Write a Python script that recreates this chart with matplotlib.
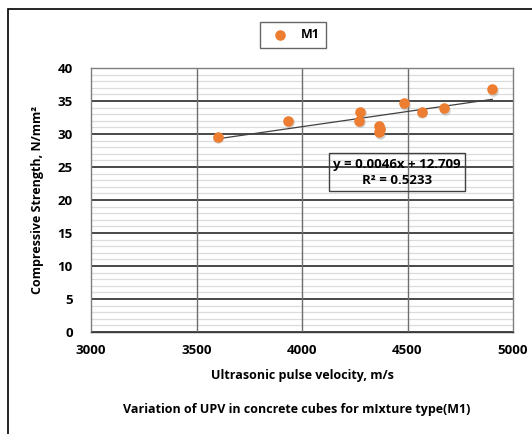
import numpy as np
import matplotlib.pyplot as plt
from matplotlib.patches import Rectangle

plt.rcParams['font.family'] = ['Open Sans', 'DejaVu Sans']
plt.rcParams['font.weight'] = 'bold'
plt.rcParams['axes.labelweight'] = 'bold'

# UPV (m/s) vs compressive strength (N/mm2), mixture M1
upv = [3600, 3935, 4275, 4270, 4365, 4368, 4365, 4483, 4567, 4675, 4902]
strength = [29.6, 32.0, 33.4, 32.0, 31.2, 30.8, 30.3, 34.7, 33.4, 33.9, 36.8]

# trendline from the chart's equation
slope = 0.0046
intercept = 12.709
eq_text = 'y = 0.0046x + 12.709\nR² = 0.5233'

x_ticks = [3000, 3500, 4000, 4500, 5000]
y_ticks = [0, 5, 10, 15, 20, 25, 30, 35, 40]

W, H = 532, 434
fig = plt.figure(figsize=(W / 100, H / 100), dpi=100)
ax = fig.add_axes([91 / W, 1 - 332 / H, (513 - 91) / W, (332 - 68) / H])

# outer chart border
fig.patches.append(Rectangle((8 / W, -0.1), 1.2, 1 - 9 / H + 0.1,
                             transform=fig.transFigure, fill=False,
                             edgecolor='black', lw=1.2))

ax.set_xlim(3000, 5000)
ax.set_ylim(0, 40)
ax.set_xticks(x_ticks)
ax.set_yticks(y_ticks)
ax.set_yticks(np.arange(0, 40, 1), minor=True)
ax.grid(which='minor', axis='y', color='#dcdcdc', lw=0.9, zorder=0.5)
ax.grid(which='major', axis='y', color='#3a3a3a', lw=1.3)
for xv in x_ticks[1:-1]:
    ax.axvline(xv, color='#6e6e6e', lw=1.0, zorder=1.5)
ax.set_axisbelow(True)
for s in ax.spines.values():
    s.set_color('#7f7f7f')
    s.set_linewidth(1.0)
ax.spines['bottom'].set_color('#3a3a3a')
ax.tick_params(which='both', length=0, labelsize=9.5, pad=9)
ax.tick_params(axis='y', pad=13)

# trendline
xt = np.array([min(upv), max(upv)])
ax.plot(xt, slope * xt + intercept, color='#404040', lw=0.9, zorder=3)

# points with soft shadow
ax.scatter(np.array(upv) + 4, np.array(strength) - 0.25, s=58, color='#888888',
           alpha=0.35, lw=0, zorder=4)
pts = ax.scatter(upv, strength, s=58, color='#ED7D31', lw=0, zorder=5, label='M1')

ax.text(4450, 24.2, eq_text, ha='center', va='center', fontsize=9.5,
        linespacing=1.25, zorder=6,
        bbox=dict(boxstyle='square,pad=0.35', fc='none', ec='#404040', lw=1.0))

ax.set_xlabel('Ultrasonic pulse velocity, m/s', fontsize=9, labelpad=8)
ax.set_ylabel('Compressive Strength, N/mm²', fontsize=9, labelpad=10)

fig.text(297 / W, 1 - 409 / H, 'Variation of UPV in concrete cubes for mIxture type(M1)',
         ha='center', va='center', fontsize=9)

fig.legend(handles=[pts], loc='center', bbox_to_anchor=(293 / W, 1 - 35 / H),
           fontsize=9, frameon=True, fancybox=False, edgecolor='#404040',
           handletextpad=0.5, borderpad=0.5, handlelength=2.2, borderaxespad=0)

fig.savefig('out.png', dpi=100)
